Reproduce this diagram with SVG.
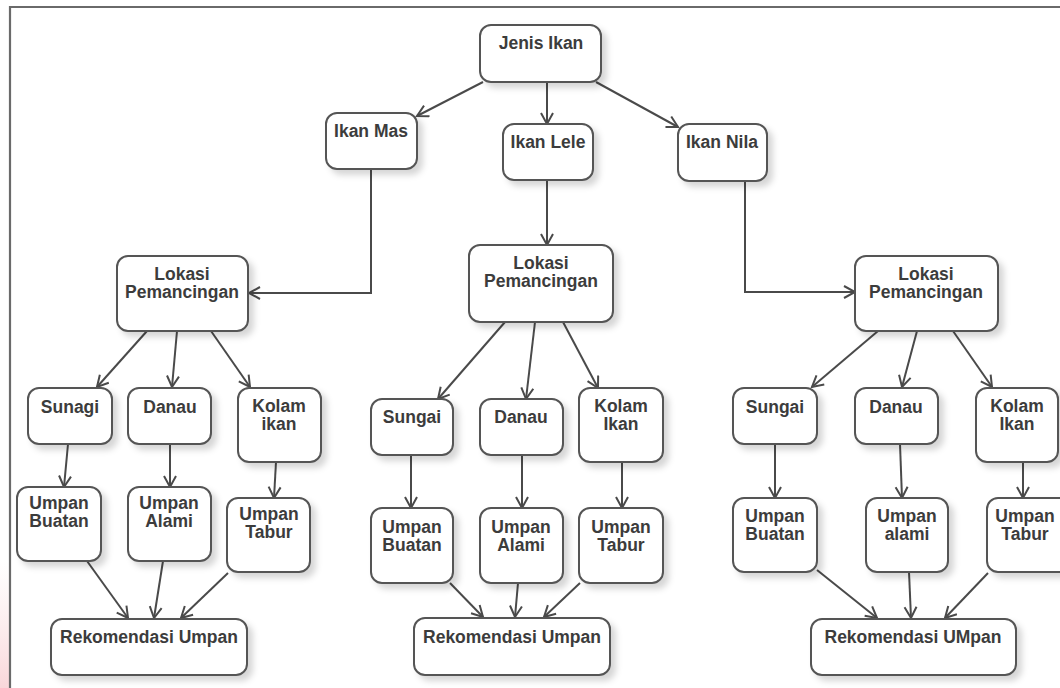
<svg xmlns="http://www.w3.org/2000/svg" width="1060" height="688" viewBox="0 0 1060 688">
  <defs>
    <style>
      .box { fill: #ffffff; stroke: #555555; stroke-width: 2; filter: url(#shadow); }
      .lbl { font-family: "Liberation Sans", Arial, sans-serif; font-size: 17.5px; font-weight: bold; fill: #3c3c3c; text-anchor: middle; }
      .edge { fill: none; stroke: #4a4a4a; stroke-width: 2; marker-end: url(#arrow); }
      .frame { fill: none; stroke: #6a6a6a; stroke-width: 2.2; }
    </style>
    <filter id="shadow" x="-20%" y="-20%" width="150%" height="160%">
      <feDropShadow dx="5" dy="5" stdDeviation="3" flood-color="#000000" flood-opacity="0.16"/>
    </filter>
    <marker id="arrow" markerUnits="userSpaceOnUse" markerWidth="16" markerHeight="16" refX="12" refY="7" orient="auto">
      <path d="M1,1 L12,7 L1,13" fill="none" stroke="#4a4a4a" stroke-width="2"/>
    </marker>
    <linearGradient id="tint" x1="0" y1="0" x2="0" y2="1">
      <stop offset="0" stop-color="#f6c9cc" stop-opacity="0"/>
      <stop offset="1" stop-color="#f4b5bb" stop-opacity="0.55"/>
    </linearGradient>
  </defs>

  <rect x="0" y="0" width="1060" height="688" fill="#ffffff"/>
  <rect x="0" y="560" width="9" height="128" fill="url(#tint)"/>

  <!-- page frame -->
  <path class="frame" d="M10,688 L10,7 L1060,7"/>

  <!-- connectors -->
  <g id="connectors">
    <line class="edge" x1="483" y1="82" x2="417" y2="116"/>
    <line class="edge" x1="547" y1="82" x2="547" y2="124"/>
    <line class="edge" x1="596" y1="82" x2="678" y2="127"/>

    <polyline class="edge" points="371,169 371,293 249,293"/>
    <line class="edge" x1="547" y1="180" x2="547" y2="245"/>
    <polyline class="edge" points="745,181 745,292 855,292"/>

    <line class="edge" x1="147" y1="331" x2="97" y2="387"/>
    <line class="edge" x1="177" y1="331" x2="172" y2="387"/>
    <line class="edge" x1="211" y1="331" x2="250" y2="387"/>

    <line class="edge" x1="505" y1="322" x2="438" y2="399"/>
    <line class="edge" x1="535" y1="322" x2="526" y2="399"/>
    <line class="edge" x1="563" y1="322" x2="598" y2="388"/>

    <line class="edge" x1="878" y1="331" x2="812" y2="387"/>
    <line class="edge" x1="917" y1="331" x2="902" y2="387"/>
    <line class="edge" x1="953" y1="331" x2="992" y2="387"/>

    <line class="edge" x1="68" y1="444" x2="64" y2="487"/>
    <line class="edge" x1="170" y1="444" x2="170" y2="487"/>
    <line class="edge" x1="276" y1="462" x2="274" y2="498"/>

    <line class="edge" x1="411" y1="455" x2="411" y2="508"/>
    <line class="edge" x1="522" y1="455" x2="522" y2="508"/>
    <line class="edge" x1="622" y1="462" x2="622" y2="508"/>

    <line class="edge" x1="775" y1="444" x2="775" y2="498"/>
    <line class="edge" x1="900" y1="444" x2="902" y2="498"/>
    <line class="edge" x1="1023" y1="462" x2="1023" y2="498"/>

    <line class="edge" x1="87" y1="561" x2="128" y2="618"/>
    <line class="edge" x1="163" y1="561" x2="154" y2="618"/>
    <line class="edge" x1="228" y1="573" x2="181" y2="618"/>

    <line class="edge" x1="450" y1="583" x2="483" y2="617"/>
    <line class="edge" x1="518" y1="583" x2="515" y2="617"/>
    <line class="edge" x1="580" y1="583" x2="544" y2="617"/>

    <line class="edge" x1="817" y1="570" x2="877" y2="618"/>
    <line class="edge" x1="909" y1="572" x2="911" y2="618"/>
    <line class="edge" x1="988" y1="573" x2="945" y2="618"/>
  </g>

  <!-- root -->
  <g id="jenis-ikan">
    <rect class="box" x="480" y="25" width="121" height="57" rx="11"/>
    <text class="lbl" x="541" y="49">Jenis Ikan</text>
  </g>

  <!-- fish types -->
  <g id="ikan-mas">
    <rect class="box" x="326" y="113" width="91" height="56" rx="11"/>
    <text class="lbl" x="371" y="137">Ikan Mas</text>
  </g>
  <g id="ikan-lele">
    <rect class="box" x="503" y="124" width="90" height="56" rx="11"/>
    <text class="lbl" x="548" y="148">Ikan Lele</text>
  </g>
  <g id="ikan-nila">
    <rect class="box" x="678" y="124" width="89" height="57" rx="11"/>
    <text class="lbl" x="722" y="148">Ikan Nila</text>
  </g>

  <!-- fishing locations -->
  <g id="lokasi-mas">
    <rect class="box" x="117" y="256" width="131" height="75" rx="11"/>
    <text class="lbl" x="182" y="280">Lokasi</text>
    <text class="lbl" x="182" y="298">Pemancingan</text>
  </g>
  <g id="lokasi-lele">
    <rect class="box" x="469" y="245" width="144" height="77" rx="11"/>
    <text class="lbl" x="541" y="269">Lokasi</text>
    <text class="lbl" x="541" y="287">Pemancingan</text>
  </g>
  <g id="lokasi-nila">
    <rect class="box" x="855" y="256" width="143" height="75" rx="11"/>
    <text class="lbl" x="926" y="280">Lokasi</text>
    <text class="lbl" x="926" y="298">Pemancingan</text>
  </g>

  <!-- Ikan Mas branch -->
  <g id="mas-sunagi">
    <rect class="box" x="28" y="388" width="84" height="56" rx="11"/>
    <text class="lbl" x="70" y="413">Sunagi</text>
  </g>
  <g id="mas-danau">
    <rect class="box" x="128" y="388" width="83" height="56" rx="11"/>
    <text class="lbl" x="170" y="413">Danau</text>
  </g>
  <g id="mas-kolam">
    <rect class="box" x="238" y="388" width="83" height="74" rx="11"/>
    <text class="lbl" x="279" y="412">Kolam</text>
    <text class="lbl" x="279" y="430">ikan</text>
  </g>
  <g id="mas-buatan">
    <rect class="box" x="17" y="487" width="84" height="74" rx="11"/>
    <text class="lbl" x="59" y="509">Umpan</text>
    <text class="lbl" x="59" y="527">Buatan</text>
  </g>
  <g id="mas-alami">
    <rect class="box" x="128" y="487" width="83" height="74" rx="11"/>
    <text class="lbl" x="169" y="509">Umpan</text>
    <text class="lbl" x="169" y="527">Alami</text>
  </g>
  <g id="mas-tabur">
    <rect class="box" x="227" y="498" width="83" height="74" rx="11"/>
    <text class="lbl" x="269" y="520">Umpan</text>
    <text class="lbl" x="269" y="538">Tabur</text>
  </g>
  <g id="mas-rekomendasi">
    <rect class="box" x="51" y="619" width="196" height="56" rx="11"/>
    <text class="lbl" x="149" y="643">Rekomendasi Umpan</text>
  </g>

  <!-- Ikan Lele branch -->
  <g id="lele-sungai">
    <rect class="box" x="371" y="399" width="82" height="56" rx="11"/>
    <text class="lbl" x="412" y="423">Sungai</text>
  </g>
  <g id="lele-danau">
    <rect class="box" x="480" y="399" width="83" height="56" rx="11"/>
    <text class="lbl" x="521" y="423">Danau</text>
  </g>
  <g id="lele-kolam">
    <rect class="box" x="579" y="388" width="84" height="74" rx="11"/>
    <text class="lbl" x="621" y="412">Kolam</text>
    <text class="lbl" x="621" y="430">Ikan</text>
  </g>
  <g id="lele-buatan">
    <rect class="box" x="371" y="508" width="82" height="75" rx="11"/>
    <text class="lbl" x="412" y="533">Umpan</text>
    <text class="lbl" x="412" y="551">Buatan</text>
  </g>
  <g id="lele-alami">
    <rect class="box" x="480" y="508" width="83" height="75" rx="11"/>
    <text class="lbl" x="521" y="533">Umpan</text>
    <text class="lbl" x="521" y="551">Alami</text>
  </g>
  <g id="lele-tabur">
    <rect class="box" x="579" y="508" width="84" height="75" rx="11"/>
    <text class="lbl" x="621" y="533">Umpan</text>
    <text class="lbl" x="621" y="551">Tabur</text>
  </g>
  <g id="lele-rekomendasi">
    <rect class="box" x="414" y="618" width="196" height="57" rx="11"/>
    <text class="lbl" x="512" y="643">Rekomendasi Umpan</text>
  </g>

  <!-- Ikan Nila branch -->
  <g id="nila-sungai">
    <rect class="box" x="733" y="388" width="84" height="56" rx="11"/>
    <text class="lbl" x="775" y="413">Sungai</text>
  </g>
  <g id="nila-danau">
    <rect class="box" x="855" y="388" width="83" height="56" rx="11"/>
    <text class="lbl" x="896" y="413">Danau</text>
  </g>
  <g id="nila-kolam">
    <rect class="box" x="976" y="388" width="82" height="74" rx="11"/>
    <text class="lbl" x="1017" y="412">Kolam</text>
    <text class="lbl" x="1017" y="430">Ikan</text>
  </g>
  <g id="nila-buatan">
    <rect class="box" x="733" y="498" width="84" height="74" rx="11"/>
    <text class="lbl" x="775" y="522">Umpan</text>
    <text class="lbl" x="775" y="540">Buatan</text>
  </g>
  <g id="nila-alami">
    <rect class="box" x="866" y="498" width="82" height="74" rx="11"/>
    <text class="lbl" x="907" y="522">Umpan</text>
    <text class="lbl" x="907" y="540">alami</text>
  </g>
  <g id="nila-tabur">
    <rect class="box" x="987" y="498" width="84" height="74" rx="11"/>
    <text class="lbl" x="1025" y="522">Umpan</text>
    <text class="lbl" x="1025" y="540">Tabur</text>
  </g>
  <g id="nila-rekomendasi">
    <rect class="box" x="811" y="619" width="205" height="56" rx="11"/>
    <text class="lbl" x="913" y="643">Rekomendasi UMpan</text>
  </g>
</svg>
